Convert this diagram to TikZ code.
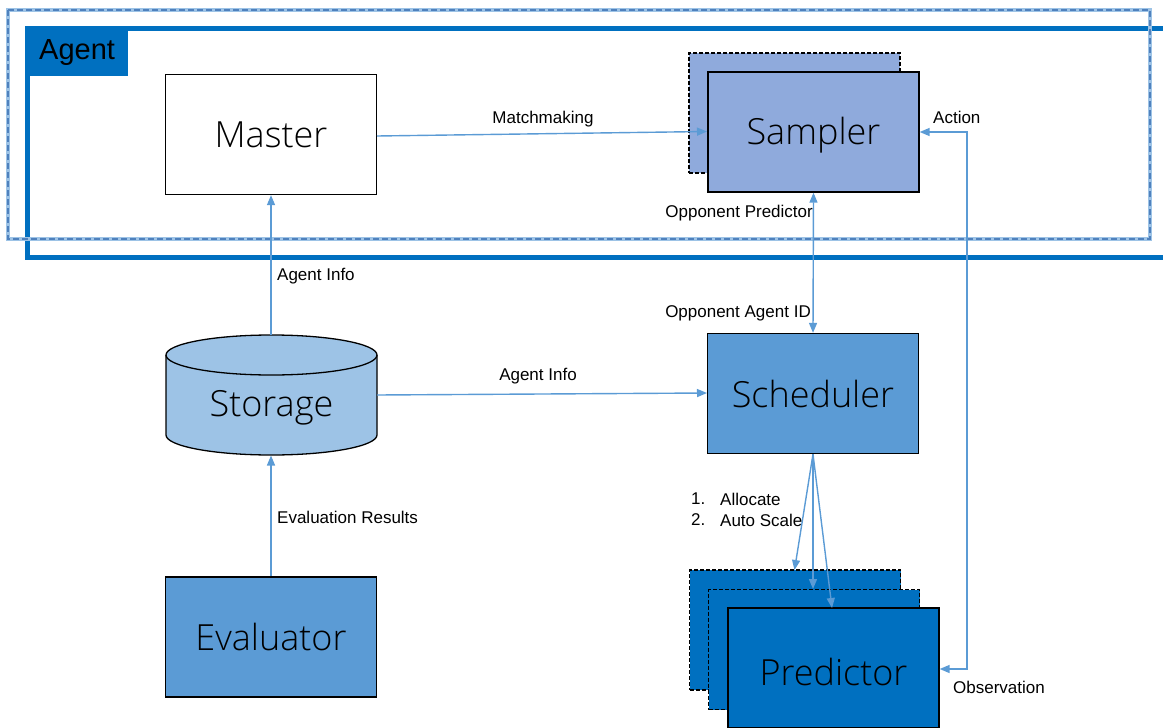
\documentclass[tikz,border=0pt]{standalone}
\usepackage{fontspec}
\setmainfont{Liberation Sans}
\newfontfamily\bigf{Open Sans Light}
\usetikzlibrary{arrows.meta,shapes.geometric}
\definecolor{arr}{HTML}{5B9BD5}
\definecolor{agentblue}{HTML}{0070C0}
\definecolor{samp}{HTML}{8FAADC}
\definecolor{sched}{HTML}{5B9BD5}
\definecolor{stor}{HTML}{9DC3E6}
\definecolor{dashb}{HTML}{4F81BD}
\begin{document}
\begin{tikzpicture}[x=1pt,y=-1pt,
  box/.style={draw=black,line width=1.3pt,minimum width=211pt,minimum height=120pt,inner sep=0pt,font=\bigf\fontsize{36}{40}\selectfont},
  dbox/.style={box,dashed,dash pattern=on 4pt off 2pt},
  conn/.style={draw=arr,line width=1.4pt,-{Triangle[length=10pt,width=8pt]}},
  lab/.style={font=\fontsize{17}{20}\selectfont,inner sep=0pt}]
\useasboundingbox (0,0) rectangle (1163,728);
\clip (0,0) rectangle (1163,728);
% Agent container
\draw[line width=5pt,agentblue] (27.5,28.5) rectangle (1175,257);
\fill[agentblue] (25,26) rectangle (128,76);
\node[font=\fontsize{29}{33}\selectfont,anchor=west,inner sep=0pt] (agentlab) at (39,53) {Agent};
% dashed outer
\draw[line width=4pt,stor] (8,10) rectangle (1150,239);
\draw[line width=2.4pt,dashb,dash pattern=on 6pt off 3pt] (8,10) rectangle (1150,239);
% nodes
\node[box,fill=white] (master) at (271,134.5) {Master};
\node[dbox,fill=samp] (sampback) at (794.5,113) {};
\node[box,fill=samp] (sampler) at (813.5,132) {};
\node[font=\bigf\fontsize{36}{40}\selectfont] (samplab) at (813.5,135) {Sampler};
\node[box,fill=sched] (scheduler) at (813,393.5) {Scheduler};
% storage cylinder
\path[fill=stor,draw=black,line width=1.3pt] (166,355) -- (166,435) arc[start angle=180,end angle=0,x radius=105.5,y radius=20] -- (377,355) arc[start angle=0,end angle=-180,x radius=105.5,y radius=20] -- cycle;
\draw[black,line width=1.3pt] (166,355) arc[start angle=180,end angle=0,x radius=105.5,y radius=20];
\node[inner sep=0pt,minimum width=211pt,minimum height=120pt] (storage) at (271.5,395) {};
\node[font=\bigf\fontsize{36}{40}\selectfont] (storagelab) at (271.5,408) {Storage};
\node[box,fill=sched] (evaluator) at (271,637) {Evaluator};
\node[dbox,fill=agentblue] (pred3) at (795,630) {};
\node[dbox,fill=agentblue] (pred2) at (814,649.5) {};
\node[box,fill=agentblue] (pred1) at (833.5,668) {};
\node[font=\bigf\fontsize{36}{40}\selectfont] (predlab) at (833.5,672) {Predictor};
% connectors
\coordinate (mA) at (377,136);
\coordinate (sA) at (707,131.5);
\draw[conn] (mA) -- (sA);
\node[lab] (matchlab) at (543,119) {Matchmaking};
\draw[conn] (271,335) -- (master.south);
\node[lab,anchor=west] (ai1) at (277,276) {Agent Info};
\coordinate (stE) at (377,395);
\coordinate (scW) at (707,393);
\draw[conn] (stE) -- (scW);
\node[lab] (ai2) at (538,376) {Agent Info};
\draw[conn] (evaluator.north) -- (271,455.5);
\node[lab,anchor=west] (evlab) at (277,517) {Evaluation Results};
\draw[conn,{Triangle[length=10pt,width=8pt]}-{Triangle[length=10pt,width=8pt]}] (sampler.south) -- (scheduler.north);
\node[lab,anchor=east] (opl) at (813,213) {Opponent Predictor};
\node[lab,anchor=east] (oal) at (811,313) {Opponent Agent ID};
\coordinate (c1) at (967,132);
\coordinate (c2) at (967,669);
\draw[conn,{Triangle[length=10pt,width=8pt]}-{Triangle[length=10pt,width=8pt]}] (sampler.east) -- (c1) -- (c2) -- (pred1.east |- c2);
\node[lab,anchor=west] (actl) at (933,117) {Action};
\node[lab,anchor=west] (obsl) at (953,687) {Observation};
\draw[conn] (scheduler.south) -- (794.5,570);
\draw[conn] (scheduler.south) -- (813,589);
\draw[conn] (scheduler.south) -- (832,608);
\node[lab,anchor=west] (l1) at (691,499) {1.};
\node[lab,anchor=west] (l1b) at (720,499) {Allocate};
\node[lab,anchor=west] (l2) at (691,520) {2.};
\node[lab,anchor=west] (l2b) at (720,520) {Auto Scale};
\end{tikzpicture}
\end{document}
